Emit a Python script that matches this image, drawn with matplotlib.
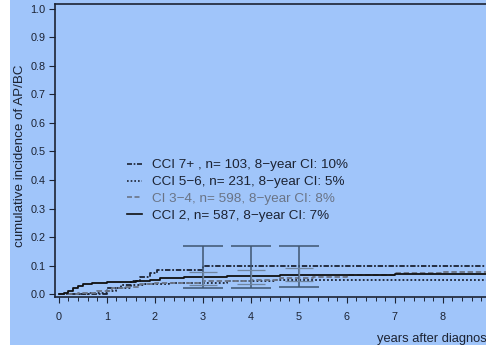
import numpy as np
import matplotlib
matplotlib.use('Agg')
import matplotlib.pyplot as plt
import matplotlib.patches as patches
from matplotlib.lines import Line2D
from matplotlib.ticker import MultipleLocator

plt.rcParams['font.family'] = ['Liberation Sans', 'DejaVu Sans']

# step curves (years, cumulative incidence)
cci7_t = [0, 1.0, 1.3, 1.5, 1.7, 1.9, 2.05, 3.0, 9.0]
cci7_v = [0, 0.02, 0.03, 0.045, 0.06, 0.075, 0.085, 0.1, 0.1]

cci56_t = [0, 0.6, 1.0, 1.2, 1.5, 1.8, 2.3, 3.5, 4.5, 9.0]
cci56_v = [0, 0.005, 0.01, 0.02, 0.03, 0.035, 0.04, 0.045, 0.048, 0.049]

cci34_t = [0, 0.4, 0.8, 1.1, 1.4, 1.7, 2.0, 3.0, 4.0, 4.6, 5.3, 6.0, 7.0, 8.0, 9.0]
cci34_v = [0, 0.005, 0.01, 0.02, 0.025, 0.035, 0.04, 0.045, 0.05, 0.055, 0.06, 0.065, 0.074, 0.077, 0.077]

cci2_t = [0, 0.1, 0.2, 0.3, 0.4, 0.5, 0.7, 1.0, 1.3, 1.6, 1.9, 2.1, 2.6, 3.0, 3.5, 4.0, 4.6, 5.0, 6.0, 7.0, 8.0, 9.0]
cci2_v = [0, 0.005, 0.012, 0.02, 0.028, 0.034, 0.038, 0.041, 0.043, 0.047, 0.05, 0.056, 0.058, 0.06, 0.062, 0.064, 0.066, 0.067, 0.068, 0.07, 0.071, 0.071]

# confidence bars at 3, 4, 5 years
ci_x = [3, 4, 5]
ci_wide_lo = [0.02, 0.02, 0.025]
ci_wide_hi = [0.17, 0.17, 0.17]
ci_narrow_lo = [0.03, 0.035, 0.045]
ci_narrow_hi = [0.078, 0.085, 0.09]

labels = ['CCI 7+ , n= 103, 8\u2212year CI: 10%',
          'CCI 5\u22126, n= 231, 8\u2212year CI: 5%',
          'CI 3\u22124, n= 598, 8\u2212year CI: 8%',
          'CCI 2, n= 587, 8\u2212year CI: 7%']
yticks = np.arange(0, 1.01, 0.1)

dark = '#1c2333'
gray = '#6a7486'
bg = '#a0c5fa'

fig = plt.figure(figsize=(4.86, 3.5), dpi=100)
fig.patch.set_facecolor('white')
fig.patches.append(patches.Rectangle((10 / 486, 5 / 350), 1, 1, transform=fig.transFigure,
                                     facecolor=bg, edgecolor='none', zorder=-5))

ax = fig.add_axes([55 / 486, 53 / 350, 431 / 486, 293 / 350])
ax.set_facecolor(bg)

styles = [
    (cci7_t, cci7_v, dark, (0, (3, 1, 1, 1))),
    (cci56_t, cci56_v, dark, (0, (1, 1.2))),
    (cci34_t, cci34_v, gray, (0, (3, 1.5))),
    (cci2_t, cci2_v, '#111111', '-'),
]
for t, v, c, ls in styles:
    ax.step(t, v, where='post', color=c, linestyle=ls, lw=1.3)

ax.errorbar(ci_x, [(a + b) / 2 for a, b in zip(ci_wide_lo, ci_wide_hi)],
            yerr=[[(b - a) / 2 for a, b in zip(ci_wide_lo, ci_wide_hi)]] * 2,
            fmt='none', ecolor='#3f5670', elinewidth=1.1, capsize=14.5, capthick=1.1)
ax.errorbar(ci_x, [(a + b) / 2 for a, b in zip(ci_narrow_lo, ci_narrow_hi)],
            yerr=[[(b - a) / 2 for a, b in zip(ci_narrow_lo, ci_narrow_hi)]] * 2,
            fmt='none', ecolor='#6f85a0', elinewidth=0.9, capsize=10, capthick=0.9)

ax.set_xlim(-0.08, 8.9)
ax.set_ylim(-0.0105, 1.0175)
ax.set_yticks(yticks)
ax.set_yticklabels(['%.1f' % y for y in yticks])
ax.set_xticks(range(0, 9))
ax.xaxis.set_minor_locator(MultipleLocator(0.2))
ax.tick_params(axis='both', labelsize=7.8, colors=dark, length=4, width=0.8, pad=3)
ax.tick_params(axis='x', which='minor', length=3, width=0.7, colors=dark)
ax.tick_params(axis='x', pad=7)
for s in ['left', 'bottom', 'top']:
    ax.spines[s].set_color(dark)
    ax.spines[s].set_linewidth(1.2)
ax.spines['right'].set_visible(False)

handles = [Line2D([], [], color=c, linestyle=ls, lw=1.2) for _, _, c, ls in styles]
leg = ax.legend(handles, labels, loc='upper left', bbox_to_anchor=(127 / 486, 1 - 159 / 350),
                bbox_transform=fig.transFigure, frameon=False, fontsize=9.7, handlelength=1.1,
                handletextpad=0.75, labelspacing=0.33, borderpad=0, borderaxespad=0)
for txt, c in zip(leg.get_texts(), [dark, dark, gray, dark]):
    txt.set_color(c)

fig.text(20 / 486, 1 - 156 / 350, 'cumulative incidence of AP/BC', rotation=90,
         ha='center', va='center', fontsize=9.6, color=dark)
fig.text(377 / 486, 1 - 339 / 350, 'years after diagnosis', ha='left', va='center',
         fontsize=9.3, color=dark)

fig.savefig('out.png', dpi=100, facecolor='white')
